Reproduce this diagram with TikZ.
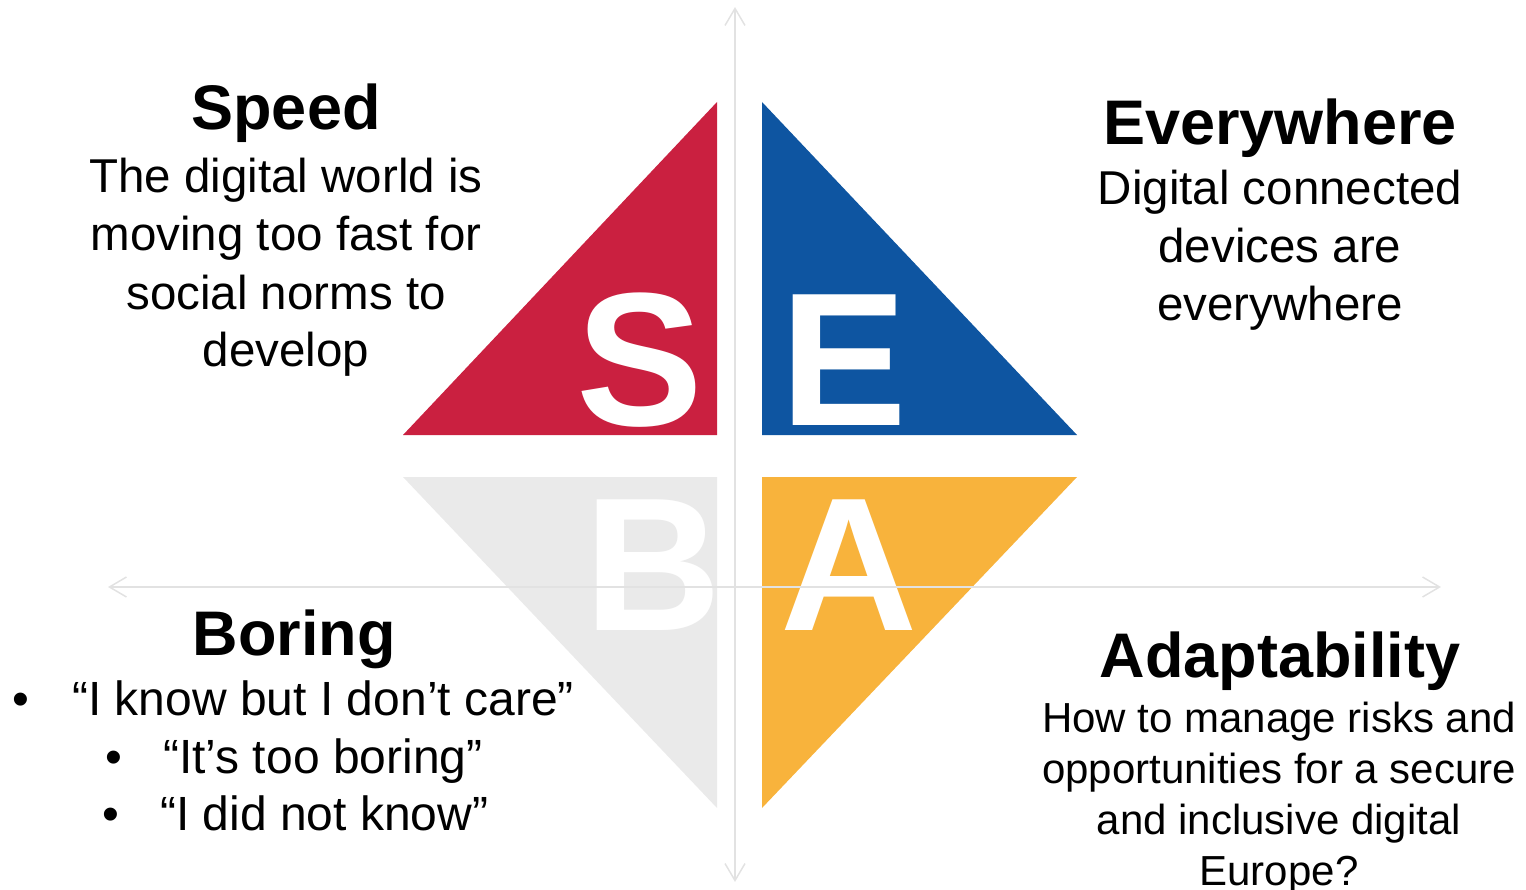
\documentclass[tikz,border=0pt]{standalone}
\usepackage{fontspec}
\setmainfont{Liberation Sans}
\usetikzlibrary{arrows.meta,positioning}

\definecolor{sebared}{HTML}{CA2040}
\definecolor{sebablue}{HTML}{0E55A1}
\definecolor{sebagray}{HTML}{EAEAEA}
\definecolor{sebayellow}{HTML}{F8B33C}
\definecolor{axisgray}{HTML}{E2E2E2}

\begin{document}
\begin{tikzpicture}[x=1pt,y=-1pt,
  heading/.style={inner sep=0pt,anchor=base,font=\fontsize{63}{70}\selectfont\bfseries},
  body/.style={inner sep=0pt,anchor=base,align=center,font=\fontsize{47.5}{58}\selectfont},
  smallbody/.style={inner sep=0pt,anchor=base,align=center,font=\fontsize{42}{51}\selectfont},
  bulletline/.style={inner sep=0pt,anchor=base west,font=\fontsize{48}{58}\selectfont},
  letter/.style={inner sep=0pt,anchor=base,text=white,font=\fontsize{190}{190}\selectfont\bfseries},
  axis/.style={draw=axisgray,line width=1.5pt,{Straight Barb[length=17pt,width=20pt]}-{Straight Barb[length=17pt,width=20pt]}}]
  \useasboundingbox (0,0) rectangle (1526,890);
  % the four triangles
  \fill[sebared] (717,102) -- (717,435) -- (403,435) -- cycle;
  \fill[sebablue] (762,102) -- (762,435) -- (1077,435) -- cycle;
  \fill[sebagray] (403,477) -- (717,477) -- (717,808) -- cycle;
  \fill[sebayellow] (762,477) -- (1077,477) -- (762,808) -- cycle;
  % the big letters
  \path (640,425) node[letter] (S) {S};
  \path (844,425) node[letter] (E) {E};
  \path (653,630) node[letter] (B) {B};
  \path (849,630) node[letter] (A) {A};
  % the two axes
  \coordinate (top) at (735,7);
  \coordinate (bottom) at (735,882);
  \coordinate (left) at (108,587);
  \coordinate (right) at (1441,587);
  \draw[axis] (bottom) -- (top);
  \draw[axis] (left) -- (right);
  % Speed (body nodes sit on the baseline of their last line)
  \path (286,130) node[heading] (speed) {Speed};
  \path (286,367) node[body] (speedtext) {The digital world is\\moving too fast for\\social norms to\\develop};
  % Everywhere
  \path (1280,145) node[heading] (everywhere) {Everywhere};
  \path (1280,321) node[body] (everywheretext) {Digital connected\\devices are\\everywhere};
  % Boring
  \path (294,655) node[heading] (boring) {Boring};
  \path (12,715) node[bulletline] (care) {\makebox[60pt][l]{•}“I know but I don’t care”};
  \path (105,773) node[bulletline] (tooboring) {\makebox[58pt][l]{•}“It’s too boring”};
  \path (102,830) node[bulletline] (notknow) {\makebox[58pt][l]{•}“I did not know”};
  % Adaptability
  \path (1280,677) node[heading] (adaptability) {Adaptability};
  \path (1279,885) node[smallbody] (adaptabilitytext) {How to manage risks and\\opportunities for a secure\\and inclusive digital\\Europe?};
\end{tikzpicture}
\end{document}
